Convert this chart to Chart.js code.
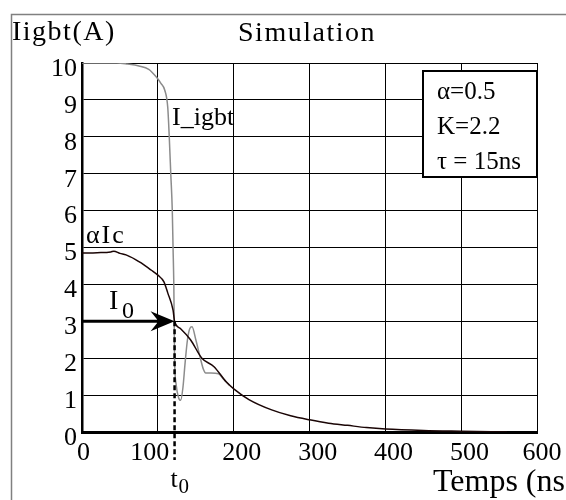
<!DOCTYPE html>
<html>
<head>
<meta charset="utf-8">
<script src="https://cdn.jsdelivr.net/npm/chart.js@4"></script>
<style>
  body { margin: 0; background: #fff; }
  #wrap { width: 566px; height: 500px; }
</style>
</head>
<body>
<div id="wrap"><canvas id="simChart"></canvas></div>
<script>
// I_igbt (grey curve): time (ns) / current (A)
const igbtTime = [0, 46, 60, 75, 88, 98, 104, 109, 113, 115, 117, 119, 120, 121, 121.5, 122, 124, 127,
  130, 133, 136, 139, 142, 145, 150, 156, 160, 163, 170, 180, 187, 194];
const igbtCurrent = [10, 10, 9.97, 9.92, 9.83, 9.62, 9.45, 9.27, 8.8, 8.0, 7.0, 6.0, 5.0, 4.0, 3.0, 2.0, 1.3, 0.95,
  0.86, 1.2, 1.9, 2.5, 2.8, 2.85, 2.5, 2.0, 1.7, 1.6, 1.6, 1.58, 1.42, 1.27];

// alpha*Ic (black curve)
const icTime = [0, 20, 38, 42, 50, 58, 70, 78, 91, 100, 108, 113, 120, 122, 130, 143, 158, 174,
  190, 200, 220, 250, 275, 300, 325, 350, 375, 400, 450, 500, 560];
const icCurrent = [4.85, 4.86, 4.88, 4.9, 4.84, 4.8, 4.68, 4.58, 4.39, 4.25, 4.07, 3.77, 3.3, 3.0, 2.8, 2.5, 2.0, 1.77,
  1.36, 1.17, 0.88, 0.6, 0.44, 0.33, 0.24, 0.18, 0.12, 0.08, 0.04, 0.02, 0.0];

const xTicks = [0, 100, 200, 300, 400, 500, 600];
const yTicks = [0, 1, 2, 3, 4, 5, 6, 7, 8, 9, 10];

// switching point
const t0 = 122;
const i0 = 3;

const boxLines = ["α=0.5", "K=2.2", "τ = 15ns"];

const serif = "'Liberation Serif', 'Times New Roman', serif";
Chart.defaults.font.family = serif;
Chart.defaults.color = "#000";

function toPoints(xs, ys) {
  return xs.map((x, k) => ({ x: x, y: ys[k] }));
}

// nudge a few x labels sideways like in the original (trailing spaces)
function xLabel(v) {
  if (v === 100) return "100     ";
  if (v === 0) return "0  ";
  if (v === 600) return "600 ";
  return String(v);
}

const decor = {
  id: "decor",
  afterDraw(chart) {
    const ctx = chart.ctx;
    const xs = chart.scales.x;
    const ys = chart.scales.y;
    ctx.save();

    // outer frame
    ctx.strokeStyle = "#808080";
    ctx.lineWidth = 1.5;
    ctx.strokeRect(11.5, 14.5, 600, 600);

    ctx.fillStyle = "#000";
    ctx.textBaseline = "alphabetic";
    ctx.font = "28px " + serif;
    ctx.letterSpacing = "1.5px";
    ctx.textAlign = "left";
    ctx.fillText("Iigbt(A)", 12, 40);
    ctx.textAlign = "center";
    ctx.fillText("Simulation", 307, 41);
    ctx.letterSpacing = "0px";

    ctx.textAlign = "left";
    ctx.font = "32px " + serif;
    ctx.fillText("Temps (ns)", 433, 491);

    // curve labels
    ctx.font = "26px " + serif;
    ctx.letterSpacing = "2px";
    ctx.fillText("\u03b1Ic", 86, 243);
    ctx.letterSpacing = "0px";
    ctx.fillText("I_igbt", 172, 125);
    ctx.font = "28px " + serif;
    ctx.fillText("I", 109, 309);
    ctx.font = "24px " + serif;
    ctx.fillText("0", 122, 318);

    // arrow to I0
    const px = xs.getPixelForValue(t0);
    const py = ys.getPixelForValue(i0);
    ctx.strokeStyle = "#000";
    ctx.lineWidth = 3;
    ctx.beginPath();
    ctx.moveTo(xs.getPixelForValue(0), py);
    ctx.lineTo(px - 12, py);
    ctx.stroke();
    ctx.beginPath();
    ctx.moveTo(px, py);
    ctx.lineTo(px - 24, py - 10);
    ctx.lineTo(px - 16, py);
    ctx.lineTo(px - 24, py + 10);
    ctx.closePath();
    ctx.fill();

    // t0 dashed marker
    ctx.setLineDash([5, 3]);
    ctx.lineWidth = 2.5;
    ctx.beginPath();
    ctx.moveTo(px, py);
    ctx.lineTo(px, chart.chartArea.bottom + 28);
    ctx.stroke();
    ctx.setLineDash([]);

    ctx.font = "26px " + serif;
    ctx.fillText("t", px - 4, 487);
    ctx.font = "21px " + serif;
    ctx.fillText("0", px + 4, 493);

    // parameter box
    ctx.fillStyle = "#fff";
    ctx.fillRect(423, 71, 114, 106);
    ctx.lineWidth = 2;
    ctx.strokeRect(423, 71, 114, 106);
    ctx.fillStyle = "#000";
    ctx.font = "25px " + serif;
    boxLines.forEach((t, k) => ctx.fillText(t, 437, 99 + k * 35));

    ctx.restore();
  }
};

new Chart(document.getElementById("simChart"), {
  type: "line",
  data: {
    datasets: [
      {
        label: "alpha Ic",
        data: toPoints(icTime, icCurrent),
        borderColor: "#1a0505",
        borderWidth: 1.5,
        pointRadius: 0,
        cubicInterpolationMode: "monotone",
        order: 0
      },
      {
        label: "I_igbt",
        data: toPoints(igbtTime, igbtCurrent),
        borderColor: "#8c8c8c",
        borderWidth: 1.5,
        pointRadius: 0,
        cubicInterpolationMode: "monotone",
        order: 1
      }
    ]
  },
  options: {
    responsive: true,
    maintainAspectRatio: false,
    animation: false,
    layout: { autoPadding: false, padding: { left: 0, top: 63, right: 17, bottom: 0 } },
    plugins: { legend: { display: false }, tooltip: { enabled: false } },
    scales: {
      x: {
        type: "linear",
        min: 0,
        max: 600,
        afterBuildTicks: s => { s.ticks = xTicks.map(v => ({ value: v })); },
        afterFit: s => { s.height = 68; },
        grid: { color: "#000", lineWidth: 1, drawTicks: false },
        border: { color: "#000", width: 3 },
        ticks: { font: { size: 26 }, padding: 6, labelOffset: 8, autoSkip: false, maxRotation: 0, callback: xLabel }
      },
      y: {
        min: 0,
        max: 10,
        afterBuildTicks: s => { s.ticks = yTicks.map(v => ({ value: v })); },
        afterFit: s => { s.width = 82; },
        grid: { color: "#000", lineWidth: 1, drawTicks: false },
        border: { color: "#000", width: 2.5 },
        ticks: { font: { size: 26 }, padding: 5, labelOffset: 6, autoSkip: false }
      }
    }
  },
  plugins: [decor]
});
</script>
</body>
</html>
